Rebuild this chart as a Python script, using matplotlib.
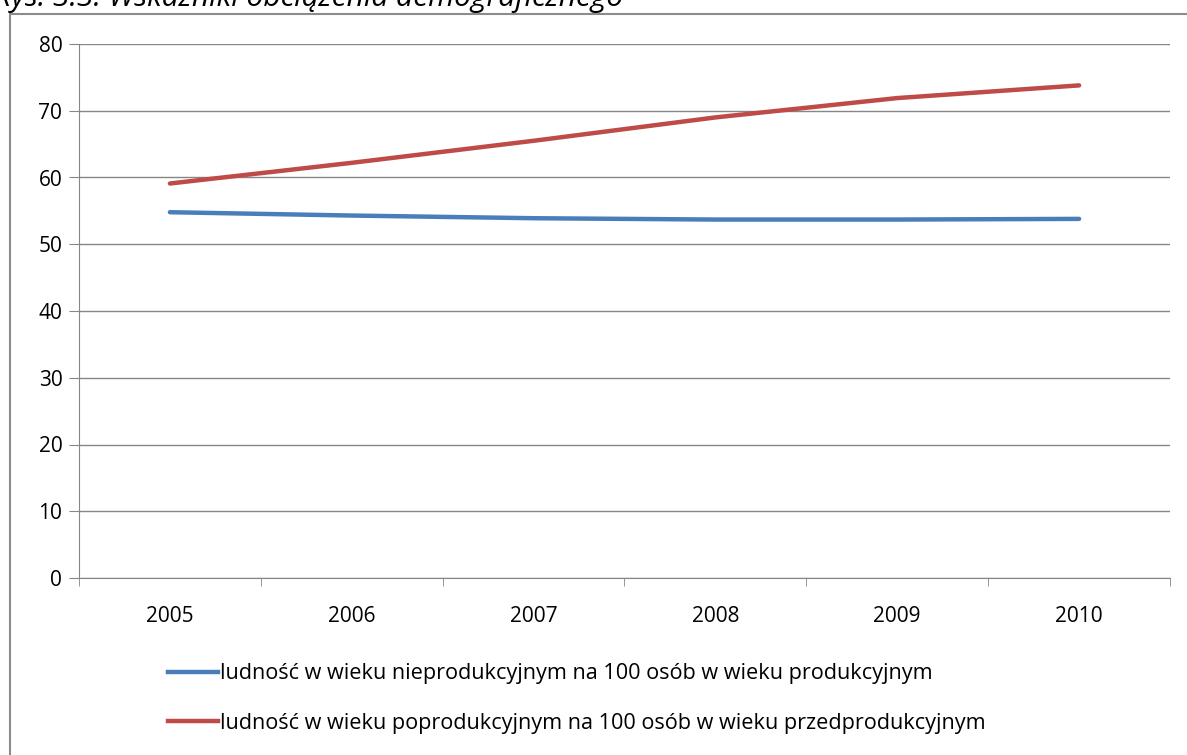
import matplotlib
matplotlib.use("Agg")
import matplotlib.pyplot as plt
from matplotlib.patches import Rectangle
from matplotlib.lines import Line2D

years = ["2005", "2006", "2007", "2008", "2009", "2010"]
nieprod = [54.8, 54.3, 53.9, 53.7, 53.7, 53.8]
poprod = [59.1, 62.2, 65.5, 69.0, 71.9, 73.8]
labels = [
    "ludność w wieku nieprodukcyjnym na 100 osób w wieku produkcyjnym",
    "ludność w wieku poprodukcyjnym na 100 osób w wieku przedprodukcyjnym",
]
title = "Rys. 3.3. Wskaźniki obciążenia demograficznego"

plt.rcParams["font.family"] = ["Open Sans", "DejaVu Sans"]
W, H = 1187, 755
fig = plt.figure(figsize=(W / 100, H / 100), dpi=100)

# ramka wykresu (ucięta z prawej i z dołu)
fig.patches.append(Rectangle((10 / W, -0.05), 1.2, 1 - 14 / H + 0.05,
                             transform=fig.transFigure, fill=False,
                             edgecolor="#8c8c8c", linewidth=1.5))
# tytuł częściowo ucięty u góry
fig.text(-6 / W, 1 - 6 / H, title, fontsize=21.5, style="italic",
         va="baseline", ha="left", color="black")

ax = fig.add_axes([79 / W, 1 - 578 / H, (1170 - 79) / W, (578 - 44) / H])
x = range(len(years))
ax.plot(x, nieprod, color="#4A7EBB", lw=3.2, solid_capstyle="round")
ax.plot(x, poprod, color="#BE4B48", lw=3.2, solid_capstyle="round")

ax.set_xlim(-0.5, len(years) - 0.5)
ax.set_ylim(0, 80)
ax.set_yticks(range(0, 81, 10))
ax.set_xticks(list(x))
ax.set_xticklabels(years)
ax.set_xticks([i - 0.5 for i in range(len(years) + 1)], minor=True)
ax.tick_params(axis="x", which="major", length=0, pad=20, labelsize=15)
ax.tick_params(axis="x", which="minor", length=6, color="#868686", direction="out")
ax.tick_params(axis="y", length=7, color="#868686", pad=5, labelsize=15)
ax.grid(axis="y", color="#868686", lw=1)
ax.set_axisbelow(True)
for s in ["top", "right"]:
    ax.spines[s].set_visible(False)
for s in ["left", "bottom"]:
    ax.spines[s].set_color("#868686")

handles = [Line2D([], [], color="#4A7EBB", lw=3.2),
           Line2D([], [], color="#BE4B48", lw=3.2)]
fig.legend(handles, labels, loc="upper left", bbox_to_anchor=(149 / W, 1 - 644 / H),
           frameon=False, fontsize=15.6, handlelength=2.3, handletextpad=0.1,
           labelspacing=1.3)

fig.savefig("out.png", dpi=100)
